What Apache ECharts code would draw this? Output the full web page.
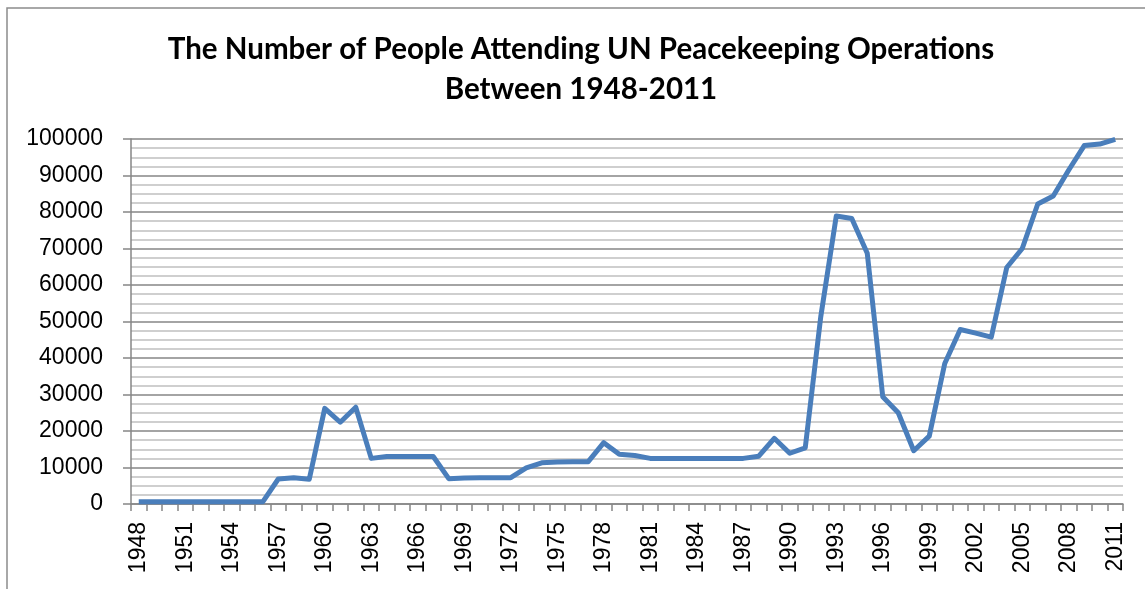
<!DOCTYPE html>
<html>
<head>
<meta charset="utf-8">
<script src="https://cdn.jsdelivr.net/npm/echarts@6/dist/echarts.min.js"></script>
<style>
  html, body { margin: 0; padding: 0; background: #fff; }
  #chart { width: 1145px; height: 589px; }
</style>
</head>
<body>
<div id="chart"></div>
<script>
// years 1948 - 2011
var years = [];
for (var y = 1948; y <= 2011; y++) years.push(String(y));

// people on UN peacekeeping operations
var people = [
    600, 600, 600, 600, 600, 600, 600, 600, 600,          // 1948-1956
    6850, 7200, 6800, 26200, 22400, 26500, 12500,         // 1957-1963
    13000, 13000, 13000, 13000, 6950, 7100, 7200,         // 1964-1970
    7200, 7200, 9900, 11300, 11500, 11600, 11600,         // 1971-1977
    16800, 13600, 13300, 12500, 12500, 12500, 12500,      // 1978-1984
    12500, 12500, 12500, 13100, 18000, 13900, 15400,      // 1985-1991
    51300, 78900, 78200, 68700, 29400, 25000, 14600,      // 1992-1998
    18600, 38500, 47800, 46800, 45700, 64800, 70000,      // 1999-2005
    82200, 84400, 91500, 98200, 98600, 99900              // 2006-2011
];

var titleLines = ['The Number of People Attending UN Peacekeeping Operations', 'Between 1948-2011'];

var myChart = echarts.init(document.getElementById('chart'));

var option = {
    backgroundColor: '#fff',
    animation: false,
    title: {
        text: titleLines.join('\n'),
        left: 576,
        textAlign: 'center',
        top: 24,
        textStyle: {
            fontFamily: 'Lato',
            fontWeight: 'bold',
            fontSize: 29.5,
            lineHeight: 40,
            color: '#000'
        }
    },
    graphic: [{
        type: 'rect',
        shape: { x: 7, y: 8, width: 1300, height: 700 },
        style: { fill: 'none', stroke: '#8c8c8c', lineWidth: 1.5 },
        silent: true
    }],
    grid: {
        left: 131,
        right: 22,
        top: 139,
        bottom: 85
    },
    xAxis: {
        type: 'category',
        data: years,
        boundaryGap: true,
        axisLine: { lineStyle: { color: '#868686', width: 1.5 } },
        axisTick: { show: true, interval: 0, length: 7, lineStyle: { color: '#868686', width: 1.5 } },
        axisLabel: {
            interval: 2,
            rotate: 90,
            margin: 18,
            fontFamily: 'Liberation Sans',
            fontSize: 23,
            color: '#000'
        },
        splitLine: { show: false }
    },
    yAxis: {
        type: 'value',
        min: 0,
        max: 100000,
        interval: 10000,
        axisLine: { show: true, lineStyle: { color: '#868686', width: 1.5 } },
        axisTick: { show: true, length: 8, lineStyle: { color: '#868686', width: 1.5 } },
        axisLabel: {
            margin: 28,
            fontFamily: 'Liberation Sans',
            fontSize: 23,
            color: '#000',
            formatter: function (v) { return String(v); }
        },
        splitLine: { show: true, lineStyle: { color: '#868686', width: 1.5 } },
        minorTick: { show: false, splitNumber: 4 },
        minorSplitLine: { show: true, lineStyle: { color: '#c0c0c0', width: 1.5 } }
    },
    series: [{
        name: 'People',
        type: 'line',
        data: people,
        symbol: 'none',
        lineStyle: { color: '#4a7ebb', width: 5, join: 'round' },
        itemStyle: { color: '#4a7ebb' }
    }]
};

myChart.setOption(option);
</script>
</body>
</html>
